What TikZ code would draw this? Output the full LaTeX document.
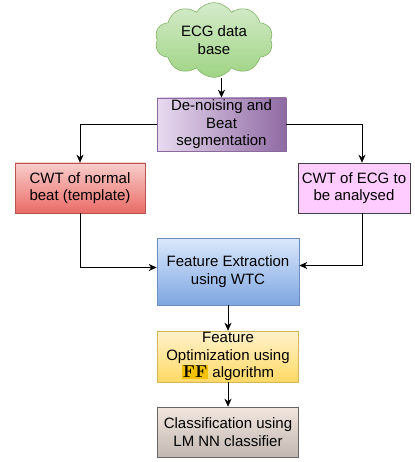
\documentclass[tikz,border=0pt]{standalone}
\usepackage[no-math]{fontspec}
\setmainfont{Liberation Sans}
\usepackage{tikz}
\usetikzlibrary{
	shapes.symbols,
	positioning,
	arrows.meta
}
\definecolor{cloudtop}{HTML}{D5EBCB}
\definecolor{cloudbot}{HTML}{9FD484}
\definecolor{cloudline}{HTML}{82B366}
\definecolor{purpleleft}{HTML}{E8DAF0}
\definecolor{purpleright}{HTML}{8F6AA3}
\definecolor{purpleline}{HTML}{8A6A9C}
\definecolor{redtop}{HTML}{F8CECC}
\definecolor{redbot}{HTML}{EA6B66}
\definecolor{redline}{HTML}{B85450}
\definecolor{pinkfill}{HTML}{FFCCFF}
\definecolor{bluetop}{HTML}{DAE8FC}
\definecolor{bluebot}{HTML}{7EA6E0}
\definecolor{blueline}{HTML}{6C8EBF}
\definecolor{yellowtop}{HTML}{FFF2CC}
\definecolor{yellowbot}{HTML}{FFD966}
\definecolor{yellowline}{HTML}{D6B656}
\definecolor{greytop}{HTML}{F2E6DE}
\definecolor{greybot}{HTML}{C2B8B1}
\definecolor{ffmark}{HTML}{F2C200}

\begin{document}
\begin{tikzpicture}[x=1pt,y=-1pt,
		font=\fontsize{15}{17.5}\selectfont,
		box/.style={draw, align=center, inner sep=1pt, line width=0.6pt},
		arr/.style={-{Stealth[length=8pt,width=7pt]}, line width=0.7pt}
	]
		\useasboundingbox (0,0) rectangle (414,462);

		\node[cloud, cloud puffs=10, cloud puff arc=115, aspect=1.5,
			draw=cloudline, top color=cloudtop, bottom color=cloudbot,
			minimum width=118pt, minimum height=74pt, inner sep=0pt,
			align=center, line width=0.6pt] (db) at (214,40) {ECG data\\base};

		\node[box, draw=purpleline, left color=purpleleft, right color=purpleright,
			minimum width=129pt, minimum height=53pt] (denoise) at (221.5,124.5)
			{De-noising and\\Beat\\segmentation};

		\node[box, draw=redline, top color=redtop, bottom color=redbot,
			minimum width=130pt, minimum height=50pt] (cwtn) at (80,188)
			{CWT of normal\\beat (template)};

		\node[box, draw=black!75, fill=pinkfill,
			minimum width=112pt, minimum height=50pt] (cwte) at (354,188)
			{CWT of ECG to\\be analysed};

		\node[box, draw=blueline, top color=bluetop, bottom color=bluebot,
			minimum width=142pt, minimum height=67pt] (feat) at (228,271.5)
			{Feature Extraction\\using WTC};

		\node[box, draw=yellowline, top color=yellowtop, bottom color=yellowbot,
			minimum width=141pt, minimum height=51pt] (optim) at (228,356.5)
			{Feature\\Optimization using\\{\setlength{\fboxsep}{1pt}\colorbox{ffmark}{\fontsize{18}{18}\selectfont$\mathbf{FF}$}} algorithm};

		\node[box, draw=black!60, top color=greytop, bottom color=greybot,
			minimum width=141pt, minimum height=50pt] (classif) at (228,432)
			{Classification using\\LM NN classifier};

		\coordinate (cwteIn) at ([xshift=8pt]cwte.north);
		\coordinate (cwteOut) at ([xshift=8pt]cwte.south);
		\coordinate (dbOut) at (denoise.north |- db.south);

		\draw[arr] (dbOut) -- (denoise.north);
		\draw[arr] (denoise.west) -| (cwtn.north);
		\draw[arr] (denoise.east) -| (cwteIn);
		\draw[arr] (cwtn.south) |- ([yshift=4pt]feat.west);
		\draw[arr] (cwteOut) |- ([yshift=6pt]feat.east);
		\draw[arr] (feat.south) -- (optim.north);
		\draw[arr] (optim.south) -- (classif.north);
	\end{tikzpicture}
\end{document}
